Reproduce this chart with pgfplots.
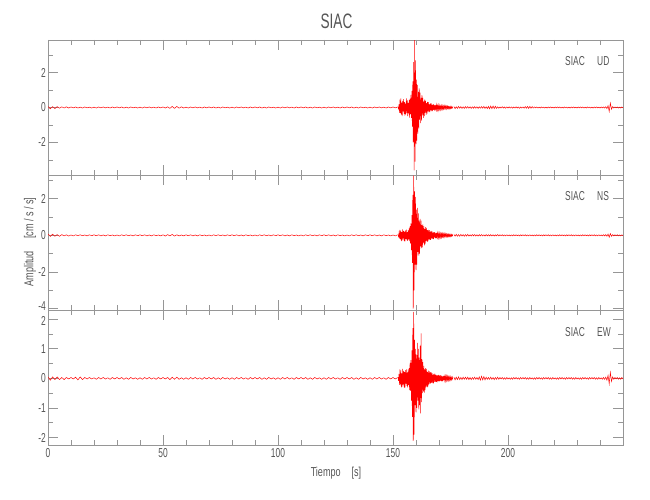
\documentclass[border=0pt]{standalone}
\usepackage{pgfplots}
\pgfplotsset{compat=1.18}
\usepackage{fontspec}
\setmainfont{Liberation Sans}[FakeStretch=0.65]
\newfontfamily\labfont{Liberation Sans}[FakeStretch=0.7]
\definecolor{axiscol}{RGB}{150,150,150}
\definecolor{textcol}{RGB}{85,85,85}
\pgfplotsset{
  seis/.style={
    scale only axis, width=575bp, height=135bp,
    xmin=0, xmax=250,
    axis line style={axiscol, line width=0.6bp},
    every tick/.style={axiscol, line width=0.6bp},
    tick align=inside,
    major tick length=10bp, minor tick length=5bp,
    xtick pos=both, ytick pos=both,
    xtick={0,50,100,150,200},
    minor xtick={10,20,30,40,60,70,80,90,110,120,130,140,160,170,180,190,210,220,230,240},
    /pgf/number format/assume math mode=true,
    every tick label/.append style={font=\fontsize{13}{13}\selectfont, text=textcol, inner sep=0pt},
    yticklabel style={anchor=east, xshift=-2bp},
    xticklabel style={anchor=north, yshift=-3bp},
  },
  sig/.style={red, line width=0.5bp},
}
\begin{document}
\begin{tikzpicture}
\path[use as bounding box] (0,0) rectangle (650bp,500bp);
% ---------- Panel 1: UD ----------
\begin{axis}[seis, at={(48bp,325bp)}, anchor=south west,
  ymin=-3.86, ymax=3.86, ytick={-2,0,2}, minor ytick={-3,-1,1,3}, xticklabels={}]
\addplot[sig] table[header=false, row sep=\\, x expr=\coordindex, y index=0] {
0.06\\-0.07\\0.05\\-0.06\\0.05\\-0.04\\0.04\\-0.03\\0.04\\-0.03\\
0.03\\-0.02\\0.03\\-0.03\\0.02\\-0.03\\0.03\\-0.02\\0.02\\-0.03\\
0.02\\-0.03\\0.03\\-0.02\\0.03\\-0.02\\0.02\\-0.03\\0.03\\-0.02\\
0.03\\-0.02\\0.03\\-0.03\\0.02\\-0.03\\0.03\\-0.02\\0.02\\-0.03\\
0.02\\-0.03\\0.03\\-0.02\\0.03\\-0.02\\0.02\\-0.03\\0.03\\-0.02\\
0.03\\-0.03\\0.04\\-0.05\\0.06\\-0.05\\0.06\\-0.04\\0.04\\-0.03\\
0.02\\-0.03\\0.03\\-0.02\\0.03\\-0.02\\0.02\\-0.03\\0.03\\-0.02\\
0.03\\-0.02\\0.03\\-0.03\\0.02\\-0.03\\0.03\\-0.02\\0.02\\-0.03\\
0.02\\-0.03\\0.03\\-0.02\\0.03\\-0.02\\0.02\\-0.03\\0.03\\-0.02\\
0.03\\-0.02\\0.03\\-0.03\\0.02\\-0.03\\0.03\\-0.02\\0.02\\-0.03\\
0.02\\-0.03\\0.03\\-0.02\\0.03\\-0.02\\0.02\\-0.03\\0.03\\-0.02\\
0.03\\-0.02\\0.03\\-0.03\\0.02\\-0.03\\0.03\\-0.02\\0.02\\-0.03\\
0.02\\-0.03\\0.03\\-0.02\\0.03\\-0.02\\0.02\\-0.03\\0.03\\-0.02\\
0.03\\-0.02\\0.03\\-0.03\\0.02\\-0.03\\0.03\\-0.02\\0.02\\-0.03\\
0.02\\-0.03\\0.03\\-0.02\\0.03\\-0.02\\0.02\\-0.03\\0.03\\-0.02\\
0.03\\-0.02\\0.03\\
};
\addplot[sig] table[header=false, row sep=\\, x expr=152.2+0.2*\coordindex, y index=0] {
0.04\\-0.08\\0.18\\-0.3\\
0.45\\-0.32\\0.52\\-0.4\\0.28\\-0.5\\0.38\\-0.22\\0.48\\-0.36\\
0.3\\-0.47\\0.22\\-0.38\\0.52\\-0.3\\0.4\\-0.5\\0.26\\-0.34\\
0.44\\-0.58\\0.5\\-0.4\\0.72\\-0.6\\0.95\\-1.1\\
1.5\\-2.0\\2.6\\-3.6\\3.85\\-3.1\\
2.7\\-2.1\\1.6\\-1.9\\1.3\\-1.5\\0.9\\-1.2\\1.1\\-0.7\\0.85\\-0.9\\0.55\\-0.75\\
0.7\\-0.45\\0.55\\-0.6\\0.35\\-0.5\\0.45\\-0.3\\0.38\\-0.42\\0.25\\-0.35\\0.32\\-0.22\\0.3\\-0.26\\0.18\\-0.27\\
0.22\\-0.16\\0.25\\-0.2\\0.14\\-0.21\\0.19\\-0.13\\0.17\\-0.18\\0.12\\-0.16\\0.15\\-0.11\\0.14\\-0.13\\0.1\\-0.14\\0.12\\-0.09\\
0.11\\-0.1\\0.08\\-0.12\\0.1\\-0.07\\0.09\\-0.1\\0.07\\-0.09\\0.08\\-0.06\\0.09\\-0.07\\0.06\\-0.08\\0.07\\-0.05\\0.07\\-0.06\\
0.05\\-0.06\\0.04\\-0.06\\0.05\\-0.04\\0.05\\-0.04\\0.03\\-0.04\\
};
\addplot[sig] table[header=false, row sep=\\, x expr=176.5+0.5*\coordindex, y index=0] {
0.05\\-0.06\\0.04\\-0.05\\0.06\\-0.04\\0.05\\-0.05\\0.04\\-0.05\\
0.05\\-0.04\\0.05\\-0.04\\0.04\\-0.05\\0.04\\-0.04\\0.05\\-0.04\\
0.04\\-0.05\\0.04\\-0.04\\0.05\\-0.04\\0.06\\-0.05\\0.04\\-0.06\\
0.06\\-0.07\\0.08\\-0.07\\0.08\\-0.06\\0.07\\-0.05\\0.04\\-0.04\\
0.03\\-0.03\\0.04\\-0.03\\0.03\\-0.04\\0.03\\-0.03\\0.04\\-0.03\\
0.03\\-0.04\\0.03\\-0.03\\0.04\\-0.03\\0.03\\-0.04\\0.03\\-0.03\\
0.03\\-0.04\\0.05\\-0.04\\0.06\\-0.05\\0.06\\-0.04\\0.05\\-0.03\\
0.03\\-0.02\\0.03\\-0.03\\0.02\\-0.03\\0.03\\-0.02\\0.02\\-0.03\\
0.02\\-0.03\\0.03\\-0.02\\0.03\\-0.02\\0.02\\-0.03\\0.03\\-0.02\\
0.03\\-0.02\\0.03\\-0.03\\0.02\\-0.03\\0.03\\-0.02\\0.02\\-0.03\\
0.02\\-0.03\\0.03\\-0.02\\0.03\\-0.02\\0.02\\-0.03\\0.03\\-0.02\\
0.03\\-0.02\\0.03\\-0.03\\0.02\\-0.03\\0.03\\-0.02\\0.02\\-0.03\\
0.02\\-0.03\\0.03\\-0.02\\0.03\\-0.02\\0.02\\-0.03\\0.03\\-0.02\\
0.03\\-0.03\\0.04\\-0.06\\0.1\\-0.22\\0.25\\-0.1\\0.05\\-0.03\\
0.03\\-0.02\\0.03\\-0.03\\0.02\\-0.03\\0.03\\-0.02\\
};
\end{axis}
% ---------- Panel 2: NS ----------
\begin{axis}[seis, at={(48bp,190bp)}, anchor=south west,
  ymin=-4.07, ymax=3.29, ytick={-2,0,2}, minor ytick={-3,-1,1,3}, xticklabels={},
  extra y ticks={-4}, extra y tick style={yticklabel style={yshift=3bp}}]
\addplot[sig] table[header=false, row sep=\\, x expr=\coordindex, y index=0] {
0.07\\-0.06\\0.06\\-0.05\\0.04\\-0.05\\0.04\\-0.03\\0.03\\-0.04\\
0.02\\-0.03\\0.03\\-0.02\\0.03\\-0.02\\0.02\\-0.03\\0.03\\-0.02\\
0.03\\-0.02\\0.03\\-0.03\\0.02\\-0.03\\0.03\\-0.02\\0.02\\-0.03\\
0.02\\-0.03\\0.03\\-0.02\\0.03\\-0.02\\0.02\\-0.03\\0.03\\-0.02\\
0.03\\-0.02\\0.03\\-0.03\\0.02\\-0.03\\0.03\\-0.02\\0.02\\-0.03\\
0.03\\-0.04\\0.04\\-0.03\\0.05\\-0.04\\0.03\\-0.03\\0.02\\-0.03\\
0.03\\-0.02\\0.03\\-0.03\\0.02\\-0.03\\0.03\\-0.02\\0.02\\-0.03\\
0.02\\-0.03\\0.03\\-0.02\\0.03\\-0.02\\0.02\\-0.03\\0.03\\-0.02\\
0.03\\-0.02\\0.03\\-0.03\\0.02\\-0.03\\0.03\\-0.02\\0.02\\-0.03\\
0.02\\-0.03\\0.03\\-0.02\\0.03\\-0.02\\0.02\\-0.03\\0.03\\-0.02\\
0.03\\-0.02\\0.03\\-0.03\\0.02\\-0.03\\0.03\\-0.02\\0.02\\-0.03\\
0.02\\-0.03\\0.03\\-0.02\\0.03\\-0.02\\0.02\\-0.03\\0.03\\-0.02\\
0.03\\-0.02\\0.03\\-0.03\\0.02\\-0.03\\0.03\\-0.02\\0.02\\-0.03\\
0.02\\-0.03\\0.03\\-0.02\\0.03\\-0.02\\0.02\\-0.03\\0.03\\-0.02\\
0.03\\-0.02\\0.03\\-0.03\\0.02\\-0.03\\0.03\\-0.02\\0.02\\-0.03\\
0.02\\-0.03\\0.03\\
};
\addplot[sig] table[header=false, row sep=\\, x expr=152.2+0.2*\coordindex, y index=0] {
0.04\\-0.07\\0.12\\-0.18\\
0.3\\-0.2\\0.26\\-0.32\\0.18\\-0.28\\0.33\\-0.16\\0.24\\-0.3\\
0.2\\-0.34\\0.27\\-0.19\\0.31\\-0.26\\0.17\\-0.3\\0.29\\-0.22\\
0.38\\-0.32\\0.5\\-0.45\\0.65\\-0.8\\
1.1\\-1.5\\2.2\\-4.0\\3.25\\-3.0\\
2.4\\-1.6\\2.1\\-1.9\\1.4\\-1.6\\1.5\\-0.9\\1.2\\-1.1\\0.8\\-1.0\\0.9\\-0.6\\0.8\\-0.7\\
0.55\\-0.65\\0.6\\-0.4\\0.5\\-0.55\\0.35\\-0.48\\0.45\\-0.3\\0.4\\-0.35\\0.28\\-0.33\\0.3\\-0.22\\0.28\\-0.25\\
0.2\\-0.25\\0.24\\-0.16\\0.22\\-0.19\\0.15\\-0.2\\0.18\\-0.13\\0.17\\-0.15\\0.12\\-0.16\\0.14\\-0.1\\0.13\\-0.12\\0.1\\-0.12\\
0.11\\-0.09\\0.1\\-0.11\\0.08\\-0.1\\0.09\\-0.07\\0.08\\-0.09\\0.07\\-0.08\\0.08\\-0.06\\0.07\\-0.07\\0.06\\-0.07\\0.05\\-0.06\\
0.06\\-0.05\\0.05\\-0.06\\0.04\\-0.05\\0.05\\-0.04\\0.04\\-0.04\\
};
\addplot[sig] table[header=false, row sep=\\, x expr=176.5+0.5*\coordindex, y index=0] {
0.05\\-0.04\\0.05\\-0.05\\0.04\\-0.05\\0.05\\-0.04\\0.04\\-0.05\\
0.04\\-0.04\\0.05\\-0.04\\0.03\\-0.04\\0.04\\-0.03\\0.04\\-0.04\\
0.03\\-0.04\\0.04\\-0.03\\0.04\\-0.03\\0.03\\-0.04\\0.04\\-0.03\\
0.03\\-0.03\\0.04\\-0.03\\0.03\\-0.04\\0.03\\-0.03\\0.04\\-0.03\\
0.03\\-0.02\\0.03\\-0.03\\0.02\\-0.03\\0.03\\-0.02\\0.02\\-0.03\\
0.02\\-0.03\\0.03\\-0.02\\0.03\\-0.02\\0.02\\-0.03\\0.03\\-0.02\\
0.03\\-0.02\\0.03\\-0.03\\0.02\\-0.03\\0.03\\-0.02\\0.02\\-0.03\\
0.02\\-0.03\\0.03\\-0.02\\0.03\\-0.02\\0.02\\-0.03\\0.03\\-0.02\\
0.03\\-0.02\\0.03\\-0.03\\0.02\\-0.03\\0.03\\-0.02\\0.02\\-0.03\\
0.02\\-0.03\\0.03\\-0.02\\0.03\\-0.02\\0.02\\-0.03\\0.03\\-0.02\\
0.03\\-0.02\\0.03\\-0.03\\0.02\\-0.03\\0.03\\-0.02\\0.02\\-0.03\\
0.02\\-0.03\\0.03\\-0.02\\0.03\\-0.02\\0.02\\-0.03\\0.03\\-0.02\\
0.03\\-0.02\\0.03\\-0.03\\0.02\\-0.03\\0.03\\-0.02\\0.02\\-0.03\\
0.03\\-0.03\\0.04\\-0.05\\0.07\\-0.1\\0.09\\-0.05\\0.04\\-0.03\\
0.03\\-0.02\\0.03\\-0.03\\0.02\\-0.03\\0.03\\-0.02\\
};
\end{axis}
% ---------- Panel 3: EW ----------
\begin{axis}[seis, at={(48bp,55bp)}, anchor=south west,
  ymin=-2.25, ymax=2.31, ytick={-2,-1,0,1}, minor ytick={-1.5,-0.5,0.5,1.5},
  extra y ticks={2}, extra y tick style={yticklabel style={yshift=-1.5bp}}]
\addplot[sig] table[header=false, row sep=\\, x expr=\coordindex, y index=0] {
0.05\\-0.06\\0.05\\-0.04\\0.05\\-0.04\\0.03\\-0.04\\0.03\\-0.02\\
0.03\\-0.02\\0.04\\-0.05\\0.05\\-0.04\\0.03\\-0.02\\0.03\\-0.02\\
0.02\\-0.03\\0.03\\-0.02\\0.03\\-0.02\\0.02\\-0.03\\0.03\\-0.02\\
0.03\\-0.02\\0.03\\-0.03\\0.02\\-0.03\\0.03\\-0.02\\0.02\\-0.03\\
0.02\\-0.03\\0.03\\-0.02\\0.03\\-0.02\\0.02\\-0.03\\0.03\\-0.02\\
0.03\\-0.02\\0.03\\-0.04\\0.04\\-0.03\\0.04\\-0.03\\0.02\\-0.03\\
0.02\\-0.03\\0.03\\-0.02\\0.03\\-0.02\\0.02\\-0.03\\0.03\\-0.02\\
0.03\\-0.02\\0.03\\-0.03\\0.02\\-0.03\\0.03\\-0.02\\0.02\\-0.03\\
0.02\\-0.03\\0.03\\-0.02\\0.03\\-0.02\\0.02\\-0.03\\0.03\\-0.02\\
0.03\\-0.02\\0.03\\-0.03\\0.02\\-0.03\\0.03\\-0.02\\0.02\\-0.03\\
0.02\\-0.03\\0.03\\-0.02\\0.03\\-0.02\\0.02\\-0.03\\0.03\\-0.02\\
0.03\\-0.02\\0.03\\-0.03\\0.02\\-0.03\\0.03\\-0.02\\0.02\\-0.03\\
0.02\\-0.03\\0.03\\-0.02\\0.03\\-0.02\\0.02\\-0.03\\0.03\\-0.02\\
0.03\\-0.02\\0.03\\-0.03\\0.02\\-0.03\\0.03\\-0.02\\0.02\\-0.03\\
0.02\\-0.03\\0.03\\-0.02\\0.03\\-0.02\\0.02\\-0.03\\0.03\\-0.02\\
0.03\\-0.02\\0.03\\
};
\addplot[sig] table[header=false, row sep=\\, x expr=152.2+0.2*\coordindex, y index=0] {
0.04\\-0.08\\0.15\\-0.22\\
0.3\\-0.2\\0.27\\-0.3\\0.17\\-0.28\\0.32\\-0.2\\0.25\\-0.3\\
0.22\\-0.32\\0.28\\-0.18\\0.3\\-0.25\\0.2\\-0.3\\0.3\\-0.22\\
0.35\\-0.4\\0.52\\-0.42\\0.62\\-0.75\\
0.95\\-1.3\\1.7\\-2.11\\2.25\\-1.9\\
1.3\\-0.9\\1.0\\-1.15\\0.8\\-1.0\\1.2\\-0.75\\1.0\\-1.05\\0.7\\-0.9\\1.1\\-1.18\\1.52\\-0.8\\
0.65\\-0.5\\0.55\\-0.45\\0.42\\-0.48\\0.3\\-0.4\\0.35\\-0.28\\0.32\\-0.3\\0.22\\-0.28\\0.26\\-0.2\\0.24\\-0.18\\
0.2\\-0.17\\0.21\\-0.14\\0.18\\-0.16\\0.13\\-0.17\\0.15\\-0.12\\0.16\\-0.11\\0.13\\-0.12\\0.1\\-0.13\\0.11\\-0.09\\0.12\\-0.1\\
0.1\\-0.09\\0.11\\-0.08\\0.09\\-0.1\\0.07\\-0.09\\0.08\\-0.07\\0.09\\-0.06\\0.07\\-0.08\\0.06\\-0.07\\0.07\\-0.05\\0.06\\-0.06\\
0.05\\-0.06\\0.05\\-0.04\\0.05\\-0.05\\0.04\\-0.04\\0.04\\-0.03\\
};
\addplot[sig] table[header=false, row sep=\\, x expr=176.5+0.5*\coordindex, y index=0] {
0.04\\-0.05\\0.04\\-0.04\\0.05\\-0.04\\0.03\\-0.04\\0.04\\-0.03\\
0.04\\-0.03\\0.04\\-0.04\\0.03\\-0.04\\0.03\\-0.03\\0.04\\-0.03\\
0.03\\-0.04\\0.05\\-0.06\\0.07\\-0.05\\0.06\\-0.05\\0.04\\-0.03\\
0.03\\-0.03\\0.04\\-0.03\\0.03\\-0.04\\0.03\\-0.03\\0.04\\-0.03\\
0.03\\-0.02\\0.03\\-0.03\\0.02\\-0.03\\0.03\\-0.02\\0.02\\-0.03\\
0.02\\-0.03\\0.03\\-0.02\\0.03\\-0.02\\0.02\\-0.03\\0.03\\-0.02\\
0.03\\-0.02\\0.03\\-0.03\\0.02\\-0.03\\0.03\\-0.02\\0.02\\-0.03\\
0.02\\-0.03\\0.03\\-0.02\\0.03\\-0.02\\0.02\\-0.03\\0.03\\-0.02\\
0.03\\-0.02\\0.03\\-0.03\\0.02\\-0.03\\0.03\\-0.02\\0.02\\-0.03\\
0.02\\-0.03\\0.03\\-0.02\\0.03\\-0.02\\0.02\\-0.03\\0.03\\-0.02\\
0.03\\-0.02\\0.03\\-0.03\\0.02\\-0.03\\0.03\\-0.02\\0.02\\-0.03\\
0.02\\-0.03\\0.03\\-0.02\\0.03\\-0.02\\0.02\\-0.03\\0.03\\-0.02\\
0.03\\-0.02\\0.03\\-0.03\\0.02\\-0.03\\0.03\\-0.02\\0.02\\-0.03\\
0.03\\-0.03\\0.04\\-0.06\\0.1\\-0.18\\0.2\\-0.1\\0.05\\-0.03\\
0.03\\-0.02\\0.03\\-0.03\\0.02\\-0.03\\0.03\\-0.02\\
};
\end{axis}
% ---------- Texts ----------
\begin{scope}[every node/.style={inner sep=0pt, text=textcol}]
\node[anchor=base] at (336.5bp,471bp) {\fontsize{21}{21}\selectfont SIAC};
\node[anchor=base west] at (565bp,434.5bp) {\fontsize{13}{13}\selectfont SIAC};
\node[anchor=base west] at (597bp,434.5bp) {\fontsize{13}{13}\selectfont UD};
\node[anchor=base west] at (565bp,299.5bp) {\fontsize{13}{13}\selectfont SIAC};
\node[anchor=base west] at (597bp,299.5bp) {\fontsize{13}{13}\selectfont NS};
\node[anchor=base west] at (565bp,163.5bp) {\fontsize{13}{13}\selectfont SIAC};
\node[anchor=base west] at (597bp,163.5bp) {\fontsize{13}{13}\selectfont EW};
\node[anchor=center] at (336bp,27bp) {\labfont\fontsize{13}{13}\selectfont Tiempo\hspace{11bp}[s]};
\node[anchor=center, rotate=90] at (30bp,258bp) {\labfont\fontsize{13}{13}\selectfont Amplitud\hspace{12bp}[cm\kern2.5bp/\kern2.5bp s\kern2.5bp/\kern2.5bp s]};
\end{scope}
\end{tikzpicture}
\end{document}
